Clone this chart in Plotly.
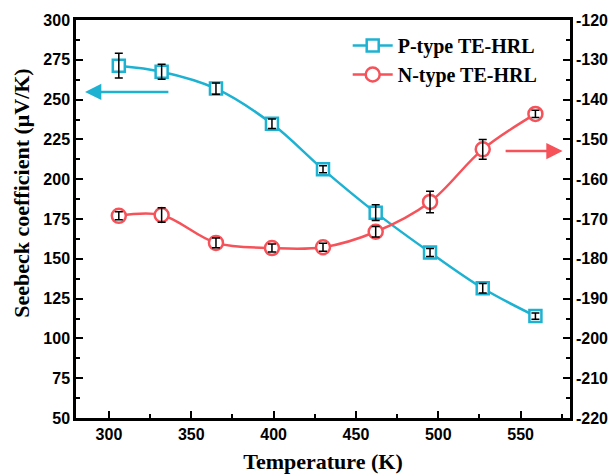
import plotly.graph_objects as go

temperature = [306, 332, 365, 399, 430, 462, 495, 527, 559]
p_seebeck = [271.3, 267.5, 256.9, 234.8, 206.2, 179.0, 154.0, 131.5, 114.0]
p_err = [7.8, 4.7, 3.6, 3.0, 2.2, 5.0, 2.5, 3.0, 2.0]
n_seebeck = [-169.2, -169.0, -176.0, -177.3, -177.1, -173.2, -165.7, -152.5, -143.6]
n_err = [1.0, 1.8, 1.2, 1.0, 1.0, 1.3, 2.7, 2.5, 0.9]

x_ticks = [300, 350, 400, 450, 500, 550]
y_left_ticks = [50, 75, 100, 125, 150, 175, 200, 225, 250, 275, 300]
y_right_ticks = [-220, -210, -200, -190, -180, -170, -160, -150, -140, -130, -120]
y_right_labels = ["-220", "-210", "-200", "-190", "-180", "-170", "-160", "-150", "-140", "-130", "-120"]

CYAN = "#1EB2D2"
RED = "#F5525A"
SERIF = "Times New Roman, Liberation Serif, serif"
SANS = "Arial, Liberation Sans, sans-serif"

fig = go.Figure()

fig.add_trace(go.Scatter(
    x=temperature, y=p_seebeck, mode="lines+markers", name="P-type TE-HRL",
    line=dict(color=CYAN, width=2.5, shape="spline", smoothing=1),
    marker=dict(symbol="square", size=12, color="white", line=dict(color=CYAN, width=2.5)),
    yaxis="y",
))
fig.add_trace(go.Scatter(
    x=temperature, y=p_seebeck, mode="markers", showlegend=False, hoverinfo="skip",
    marker=dict(size=1, color="rgba(0,0,0,0)"),
    error_y=dict(type="data", array=p_err, color="black", thickness=1.5, width=4),
    yaxis="y",
))
fig.add_trace(go.Scatter(
    x=temperature, y=n_seebeck, mode="lines+markers", name="N-type TE-HRL",
    line=dict(color=RED, width=2.5, shape="spline", smoothing=1),
    marker=dict(symbol="circle", size=14, color="white", line=dict(color=RED, width=2.5)),
    yaxis="y2",
))
fig.add_trace(go.Scatter(
    x=temperature, y=n_seebeck, mode="markers", showlegend=False, hoverinfo="skip",
    marker=dict(size=1, color="rgba(0,0,0,0)"),
    error_y=dict(type="data", array=n_err, color="black", thickness=1.5, width=4),
    yaxis="y2",
))

tickfont = dict(family=SANS, size=16, color="black", weight="bold")
titlefont = dict(family=SERIF, size=22, color="black", weight="bold")

fig.update_layout(
    width=615, height=475,
    margin=dict(l=76, r=45, t=20, b=57),
    paper_bgcolor="white", plot_bgcolor="white",
    showlegend=True,
    legend=dict(
        x=0.55, y=0.985, xanchor="left", yanchor="top",
        bgcolor="rgba(0,0,0,0)", borderwidth=0,
        font=dict(family=SERIF, size=20, color="black", weight="bold"),
        tracegroupgap=4, itemwidth=40,
    ),
    xaxis=dict(
        range=[280, 580], tickvals=x_ticks, ticks="inside", ticklen=7, tickwidth=2,
        tickcolor="black", showline=True, linewidth=2.5, linecolor="black", mirror=True,
        showgrid=False, zeroline=False, tickfont=tickfont, automargin=False,
        minor=dict(dtick=25, tick0=0, ticks="inside", ticklen=4, tickwidth=2, tickcolor="black", showgrid=False),
        title=dict(text="Temperature (K)", font=titlefont, standoff=12),
    ),
    yaxis=dict(
        range=[50, 300], tickvals=y_left_ticks, ticks="inside", ticklen=7, tickwidth=2,
        tickcolor="black", showline=True, linewidth=2.5, linecolor="black",
        showgrid=False, zeroline=False, tickfont=tickfont, automargin=False,
        minor=dict(dtick=12.5, tick0=0, ticks="inside", ticklen=4, tickwidth=2, tickcolor="black", showgrid=False),
    ),
    yaxis2=dict(
        range=[-220, -120], tickvals=y_right_ticks, ticktext=y_right_labels,
        overlaying="y", side="right", automargin=False,
        ticks="inside", ticklen=7, tickwidth=2, tickcolor="black",
        showline=True, linewidth=2.5, linecolor="black",
        showgrid=False, zeroline=False, tickfont=tickfont,
        minor=dict(dtick=5, tick0=0, ticks="inside", ticklen=4, tickwidth=2, tickcolor="black", showgrid=False),
    ),
)

# y-axis title (placed as rotated text, as in the reference)
fig.add_annotation(text="Seebeck coefficient (μV/K)", textangle=-90, showarrow=False,
                   xref="paper", yref="paper", x=-0.112, y=0.565, xanchor="center", yanchor="middle",
                   font=dict(family=SERIF, size=22, color="black", weight="bold"))

# indicator arrows (tip and tail in data coordinates)
fig.add_annotation(x=285.5, y=254.8, ax=337, ay=254.8, xref="x", yref="y", axref="x", ayref="y",
                   text="", showarrow=True, arrowhead=2, arrowsize=1.3, arrowwidth=2.5, arrowcolor=CYAN)
fig.add_annotation(x=575.5, y=217.7, ax=540, ay=217.7, xref="x", yref="y", axref="x", ayref="y",
                   text="", showarrow=True, arrowhead=2, arrowsize=1.3, arrowwidth=2.5, arrowcolor=RED)

fig.write_html("out.html")
